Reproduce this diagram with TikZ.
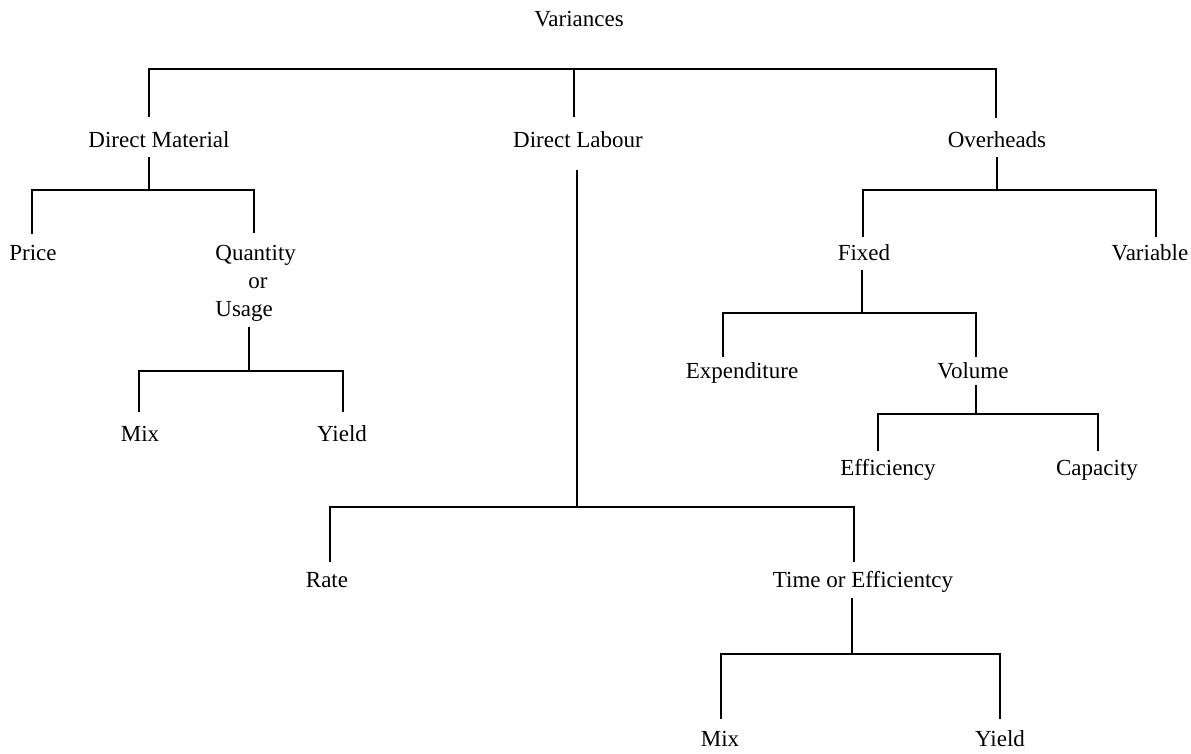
\documentclass[tikz,border=0pt]{standalone}
\usepackage{fontspec}
\setmainfont{Liberation Serif}
\begin{document}
\begin{tikzpicture}[x=0.5pt,y=-0.5pt,
  lbl/.style={anchor=base,inner sep=0pt,font=\fontsize{11.5}{14}\selectfont},
  conn/.style={line width=1.25pt}]
\useasboundingbox (0,0) rectangle (1191,754);
% labels
\node[lbl] (var) at (579,27) {Variances};
\node[lbl] (dm) at (159,148) {Direct Material};
\node[lbl] (dl) at (578,148) {Direct Labour};
\node[lbl] (oh) at (997,148) {Overheads};
\node[lbl] (price) at (33,261) {Price};
\node[lbl,anchor=base west,align=left] (qty) at (215,317) {Quantity\\\hspace*{16.5pt}or\\Usage};
\node[lbl] (mix1) at (140,442) {Mix};
\node[lbl] (yield1) at (342,442) {Yield};
\node[lbl] (rate) at (327,588) {Rate};
\node[lbl] (time) at (863,588) {Time or Efficientcy};
\node[lbl] (mix2) at (720,747) {Mix};
\node[lbl] (yield2) at (1000,747) {Yield};
\node[lbl] (fixed) at (864,261) {Fixed};
\node[lbl] (varbl) at (1150,261) {Variable};
\node[lbl] (exp) at (742,379) {Expenditure};
\node[lbl] (vol) at (973,379) {Volume};
\node[lbl] (eff) at (888,476) {Efficiency};
\node[lbl] (cap) at (1097,476) {Capacity};
% connector points
\coordinate (var-j) at (574,69);
\coordinate (dm-n) at (149,117);
\coordinate (dl-n) at (574,117);
\coordinate (oh-n) at (996,118);
\coordinate (dm-s) at (149,157);
\coordinate (dm-j) at (149,190);
\coordinate (price-n) at (32,234);
\coordinate (qty-n) at (254,233);
\coordinate (qty-s) at (249,327);
\coordinate (qty-j) at (249,371);
\coordinate (mix1-n) at (139,412);
\coordinate (yield1-n) at (343,412);
\coordinate (dl-s) at (577,170);
\coordinate (dl-j) at (577,507);
\coordinate (rate-n) at (330,562);
\coordinate (time-n) at (854,562);
\coordinate (time-s) at (852,598);
\coordinate (time-j) at (852,654);
\coordinate (mix2-n) at (721,719);
\coordinate (yield2-n) at (1000,719);
\coordinate (oh-s) at (997,157);
\coordinate (oh-j) at (997,190);
\coordinate (fixed-n) at (863,237);
\coordinate (varbl-n) at (1156,237);
\coordinate (fixed-s) at (862,270);
\coordinate (fixed-j) at (862,313);
\coordinate (exp-n) at (723,357);
\coordinate (vol-n) at (976,357);
\coordinate (vol-s) at (976,385);
\coordinate (vol-j) at (976,414);
\coordinate (eff-n) at (878,451);
\coordinate (cap-n) at (1098,451);
% connectors
\draw[conn] (dm-n) |- (var-j) -| (oh-n);
\draw[conn] (var-j) -- (dl-n);
\draw[conn] (dm-s) -- (dm-j);
\draw[conn] (price-n) |- (dm-j) -| (qty-n);
\draw[conn] (qty-s) -- (qty-j);
\draw[conn] (mix1-n) |- (qty-j) -| (yield1-n);
\draw[conn] (dl-s) -- (dl-j);
\draw[conn] (rate-n) |- (dl-j) -| (time-n);
\draw[conn] (time-s) -- (time-j);
\draw[conn] (mix2-n) |- (time-j) -| (yield2-n);
\draw[conn] (oh-s) -- (oh-j);
\draw[conn] (fixed-n) |- (oh-j) -| (varbl-n);
\draw[conn] (fixed-s) -- (fixed-j);
\draw[conn] (exp-n) |- (fixed-j) -| (vol-n);
\draw[conn] (vol-s) -- (vol-j);
\draw[conn] (eff-n) |- (vol-j) -| (cap-n);
\end{tikzpicture}
\end{document}
